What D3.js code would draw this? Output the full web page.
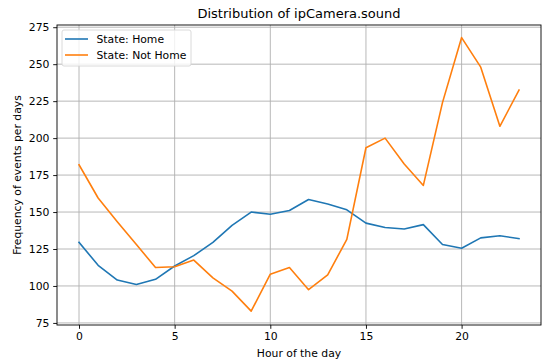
<!DOCTYPE html>
<html>
<head>
<meta charset="utf-8">
<script src="https://cdn.jsdelivr.net/npm/d3@7"></script>
<style>
  body { margin: 0; background: #fff; }
  svg { display: block; font-family: "DejaVu Sans", sans-serif; }
</style>
</head>
<body>
<svg id="canvas"></svg>
<script>
// hours 0..23
let hours = d3.range(0, 24)
let homeValues = [129.5, 114, 104, 101, 104.5, 113.5, 120.5, 129.5, 141, 150, 148.5, 151, 158.5, 155.5, 151.5, 142.5, 139.5, 138.5, 141.5, 128, 125.5, 132.5, 134, 132]
let notHomeValues = [182, 159.5, 143.5, 128, 112.5, 113, 117.5, 105.5, 96.5, 83, 108, 112.5, 97.5, 107.5, 131.5, 193.5, 200, 182.5, 168, 224, 268, 248, 208, 232.5]
let seriesNames = ['State: Home', 'State: Not Home']
let seriesColors = ['#1f77b4', '#ff7f0e']
let xTicks = [0, 5, 10, 15, 20]
let yTicks = [75, 100, 125, 150, 175, 200, 225, 250, 275]

const width = 542
const height = 364
const plotLeft = 57
const plotRight = 541
const plotTop = 25
const plotBottom = 325

let svg = d3.select('#canvas')
    .attr('width', width)
    .attr('height', height)

let xScale = d3.scaleLinear()
    .domain([-1.15, 24.15])
    .range([plotLeft, plotRight])

let yScale = d3.scaleLinear()
    .domain([73.6, 276.5])
    .range([plotBottom, plotTop])

// grid
svg.append('g')
    .selectAll('line')
    .data(xTicks)
    .enter()
    .append('line')
    .attr('x1', d => xScale(d))
    .attr('x2', d => xScale(d))
    .attr('y1', plotTop)
    .attr('y2', plotBottom)
    .attr('stroke', '#b0b0b0')
    .attr('stroke-width', 0.9)

svg.append('g')
    .selectAll('line')
    .data(yTicks)
    .enter()
    .append('line')
    .attr('x1', plotLeft)
    .attr('x2', plotRight)
    .attr('y1', d => yScale(d))
    .attr('y2', d => yScale(d))
    .attr('stroke', '#b0b0b0')
    .attr('stroke-width', 0.9)

// lines
let line = d3.line()
    .x((d, i) => xScale(hours[i]))
    .y(d => yScale(d))

let allSeries = [homeValues, notHomeValues]
allSeries.forEach((values, i) => {
    svg.append('path')
        .datum(values)
        .attr('d', line)
        .attr('fill', 'none')
        .attr('stroke', seriesColors[i])
        .attr('stroke-width', 1.6)
        .attr('stroke-linejoin', 'round')
        .attr('stroke-linecap', 'square')
})

// axes
let xAxis = d3.axisBottom(xScale)
    .tickValues(xTicks)
    .tickSize(3.8)
    .tickPadding(3.8)
    .tickSizeOuter(0)

let yAxis = d3.axisLeft(yScale)
    .tickValues(yTicks)
    .tickSize(3.8)
    .tickPadding(3.8)
    .tickSizeOuter(0)

let gx = svg.append('g')
    .attr('transform', 'translate(0,' + plotBottom + ')')
    .call(xAxis)
let gy = svg.append('g')
    .attr('transform', 'translate(' + plotLeft + ',0)')
    .call(yAxis)

;[gx, gy].forEach(g => {
    g.select('.domain').remove()
    g.selectAll('line').attr('stroke', '#000').attr('stroke-width', 0.9)
    g.selectAll('text')
        .attr('fill', '#000')
        .style('font-size', '10.8px')
        .style('font-family', '"DejaVu Sans", sans-serif')
})

// spines
svg.append('rect')
    .attr('x', plotLeft)
    .attr('y', plotTop)
    .attr('width', plotRight - plotLeft)
    .attr('height', plotBottom - plotTop)
    .attr('fill', 'none')
    .attr('stroke', '#000')
    .attr('stroke-width', 0.9)

// title and labels
svg.append('text')
    .attr('x', (plotLeft + plotRight) / 2)
    .attr('y', 18)
    .attr('text-anchor', 'middle')
    .style('font-size', '13px')
    .text('Distribution of ipCamera.sound')

svg.append('text')
    .attr('x', (plotLeft + plotRight) / 2)
    .attr('y', 357)
    .attr('text-anchor', 'middle')
    .style('font-size', '10.8px')
    .text('Hour of the day')

svg.append('text')
    .attr('transform', 'translate(21,' + (plotTop + plotBottom) / 2 + ') rotate(-90)')
    .attr('text-anchor', 'middle')
    .style('font-size', '10.8px')
    .text('Frequency of events per days')

// legend
let legend = svg.append('g')
legend.append('rect')
    .attr('x', 62)
    .attr('y', 30)
    .attr('width', 129)
    .attr('height', 36)
    .attr('rx', 2)
    .attr('fill', 'rgba(255,255,255,0.8)')
    .attr('stroke', '#d6d6d6')
    .attr('stroke-width', 0.9)

seriesNames.forEach((name, i) => {
    let cy = 39 + i * 16
    legend.append('line')
        .attr('x1', 65)
        .attr('x2', 88)
        .attr('y1', cy)
        .attr('y2', cy)
        .attr('stroke', seriesColors[i])
        .attr('stroke-width', 1.6)
    legend.append('text')
        .attr('x', 96.5)
        .attr('y', cy + 3.8)
        .style('font-size', '10.8px')
        .text(name)
})
</script>
</body>
</html>
